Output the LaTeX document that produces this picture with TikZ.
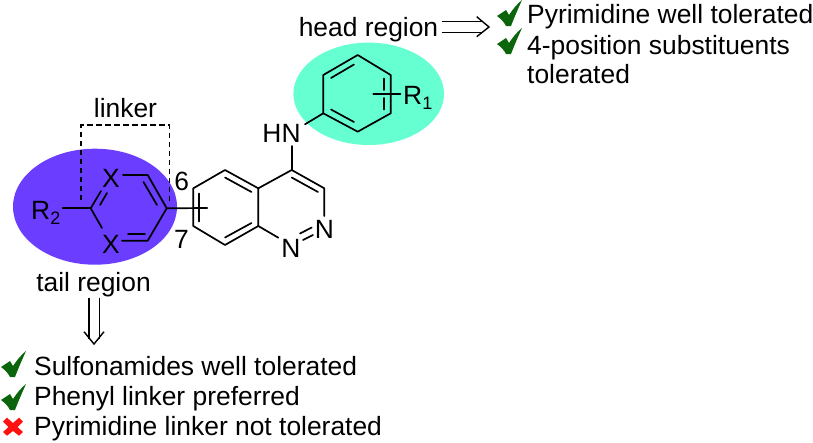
\documentclass[tikz,border=0pt]{standalone}
\usepackage{fontspec}
\setmainfont{Liberation Sans}
\usetikzlibrary{calc}
\definecolor{tailc}{HTML}{6A3DFF}
\definecolor{headc}{HTML}{66FFD2}
\definecolor{okc}{HTML}{0B660B}
\definecolor{noc}{HTML}{FF1111}
\tikzset{
  bond/.style={line width=1.7pt,line cap=round,line join=round},
  txt/.style={font=\fontsize{26.4}{26.4}\selectfont,inner sep=0pt,text=black},
  atom/.style={font=\fontsize{26.4}{26.4}\selectfont,inner sep=0pt,text=black},
  arr/.style={line width=1.4pt,line join=miter},
  okmark/.style={fill=okc,draw=none},
  nomark/.style={fill=noc,draw=none}
}
\newcommand{\chk}[2]{\fill[okmark,shift={(#1,#2)}] (0,16) -- (9,10) -- (12,15) .. controls (16,9) and (20,4) .. (25,0) .. controls (21,9) and (17,18) .. (14,26) -- (9,26) .. controls (7,22) and (4,19) .. (0,16) -- cycle;}
\begin{document}
\begin{tikzpicture}[x=1pt,y=-1pt]
\useasboundingbox (0,0) rectangle (813,442);
\fill[tailc] (95,206.7) ellipse [x radius=82,y radius=58];
\fill[headc] (368.7,93.8) ellipse [x radius=75.3,y radius=51.2];
% atoms
\node[atom] (x1) at (111,178) {X};
\node[atom] (x2) at (111,244) {X};
\node[atom,anchor=base west] (r2) at (31,219) {R\raisebox{-5pt}{\fontsize{18}{18}\selectfont 2}};
\node[atom,anchor=base west] (r1) at (403,104) {R\raisebox{-5pt}{\fontsize{18}{18}\selectfont 1}};
\node[atom] (six) at (181.7,181) {6};
\node[atom] (seven) at (181.5,239) {7};
\node[atom] (hn) at (281.5,133.5) {HN};
\node[atom] (n1) at (291,248) {N};
\node[atom] (n2) at (324.5,229) {N};
% carbons
\coordinate (a1) at (90.7,208.3); \coordinate (a2) at (147.7,175); \coordinate (a3) at (166.7,208.3); \coordinate (a4) at (147.7,240.7);
\coordinate (q1) at (193.3,188.3); \coordinate (q2) at (225,170); \coordinate (q3) at (258.3,188.3);
\coordinate (q4) at (258.3,226); \coordinate (q5) at (225,245); \coordinate (q6) at (193.3,226);
\coordinate (c4) at (291.7,170); \coordinate (c3) at (324.3,188.3);
\coordinate (p1) at (323.3,113.3); \coordinate (p2) at (323.3,75); \coordinate (p3) at (357.7,55);
\coordinate (p4) at (390.7,75); \coordinate (p5) at (390.7,113.3); \coordinate (p6) at (357.7,131.7);
\coordinate (sb) at (207.3,208); \coordinate (sr) at (373.3,94);
\begin{scope}[bond]
\draw (62.7,208.3) -- (a1);
\draw (a1) -- (101,191); \draw (100,205) -- (107,193);
\draw (a1) -- (102,228);
\draw (123,175) -- (a2) -- (a3) -- (a4) -- (122,240.7);
\draw (143.5,182) -- (157,205);
\draw (128,234) -- (145,234);
\draw (a3) -- (sb);
\draw (q1) -- (q2) -- (q3) -- (q4) -- (q5) -- (q6) -- cycle;
\draw (199,193.5) -- (199,221.5);
\draw (225,177.5) -- (251.5,192);
\draw (225,237.5) -- (251.5,223);
\draw (q3) -- (c4) -- (c3) -- (324.3,216);
\draw (291.7,177.5) -- (318,192);
\draw (q4) -- (278.3,237.7);
\draw (300,233.5) -- (311.7,227.5);
\draw (303,240) -- (313,235);
\draw (c4) -- (291.7,146);
\draw (305,124.3) -- (p1);
\draw (p1) -- (p2) -- (p3) -- (p4) -- (p5) -- (p6) -- cycle;
\draw (331,78) -- (354,64.5);
\draw (331,109.5) -- (354,122);
\draw (384,78.5) -- (384,90); \draw (384,98) -- (384,109.5);
\draw (sr) -- (400.5,94);
\end{scope}
\draw[line width=1.3pt,dash pattern=on 5.5pt off 3.5pt] (81,200) -- (81,125) -- (169.3,125) -- (169.3,203);
% text
\node[txt] (linker) at (125.5,108) {linker};
\node[txt] (tail) at (93.5,284.5) {tail region};
\node[txt] (head) at (368.5,30) {head region};
\node[txt,anchor=base west] (t1) at (527,23) {Pyrimidine well tolerated};
\node[txt,anchor=base west] (t2) at (527,54) {4-position substituents};
\node[txt,anchor=base west] (t3) at (527,83) {tolerated};
\node[txt,anchor=base west] (b1) at (34,375) {Sulfonamides well tolerated};
\node[txt,anchor=base west] (b2) at (34,405) {Phenyl linker preferred};
\node[txt,anchor=base west] (b3) at (34,435) {Pyrimidine linker not tolerated};
% arrows
\draw[arr] (441.7,21.7) -- (482,21.7); \draw[arr] (441.7,32.3) -- (482,32.3);
\draw[arr] (476.7,16.7) -- (489,27) -- (476.7,36.7);
\draw[arr] (89,297.7) -- (89,339); \draw[arr] (99.3,297.7) -- (99.3,339);
\draw[arr] (84,331.7) -- (94,344) -- (104,331.7);
% marks
\chk{497}{0}
\chk{497}{28}
\chk{1}{351}
\chk{1}{384}
\fill[nomark] (3,421.5) -- (7,417.7) -- (13,423) -- (19,417.7) -- (23,421.5) -- (17.5,427) -- (23,432) -- (19,435.7) -- (13,431) -- (7,435.7) -- (3,432) -- (8.5,427) -- cycle;
\end{tikzpicture}
\end{document}
